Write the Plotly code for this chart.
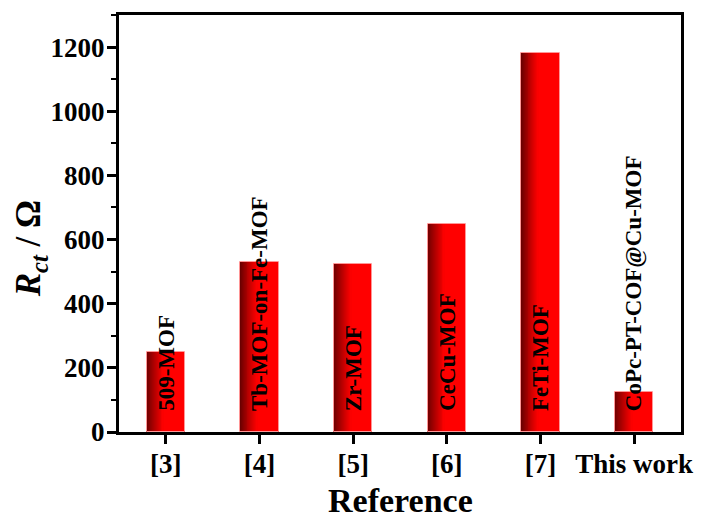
import plotly.graph_objects as go

# Charge-transfer resistance of the electrode materials, by literature reference
references = ["[3]", "[4]", "[5]", "[6]", "[7]", "This work"]
materials = ["509-MOF", "Tb-MOF-on-Fe-MOF", "Zr-MOF", "CeCu-MOF", "FeTi-MOF",
             "CoPc-PT-COF@Cu-MOF"]
rct_values = [250, 530, 525, 650, 1180, 125]

FONT = "Liberation Serif, Times New Roman, serif"
BAR_W = 0.41          # bar width in category units
SHADE_FRAC = 0.45     # fraction of the bar covered by the dark-to-red shading
N_SHADE = 18

fig = go.Figure()

# solid red body of every bar
fig.add_trace(go.Bar(x=references, y=rct_values, width=BAR_W,
                     marker=dict(color="#FF0000", line=dict(width=0))))

# dark left edge fading into red (thin overlapping strips)
step = BAR_W * SHADE_FRAC / N_SHADE
for i in range(N_SHADE):
    t = (i + 0.5) / N_SHADE
    r = int(round(100 + 155 * t ** 0.9))
    fig.add_trace(go.Bar(x=references, y=rct_values, width=step * 1.2,
                         offset=-BAR_W / 2 + i * step,
                         marker=dict(color=f"rgb({r},0,0)", line=dict(width=0))))

# light outline around each bar
fig.add_trace(go.Bar(x=references, y=rct_values, width=BAR_W,
                     marker=dict(color="rgba(0,0,0,0)",
                                 line=dict(color="rgba(255,150,150,1)", width=1))))

# material names written vertically from the foot of each bar
annotations = []
for ref, name in zip(references, materials):
    annotations.append(dict(x=ref, y=0, xref="x", yref="y", text=name,
                            textangle=-90, showarrow=False, xanchor="center",
                            yanchor="bottom", yshift=19,
                            font=dict(family=FONT, size=23, color="black",
                                      weight="bold")))

# axis titles
annotations.append(dict(x=-0.157, y=0.44, xref="paper", yref="paper",
                        text="<i>R</i><sub><i>ct</i></sub> / Ω", textangle=-90,
                        showarrow=False, xanchor="center", yanchor="middle",
                        font=dict(family=FONT, size=35, color="black",
                                  weight="bold")))
annotations.append(dict(x=0.5, y=-0.164, xref="paper", yref="paper",
                        text="Reference", showarrow=False, xanchor="center",
                        yanchor="middle",
                        font=dict(family=FONT, size=34, color="black",
                                  weight="bold")))

tickfont = dict(family=FONT, size=27, color="black", weight="bold")

fig.update_layout(
    width=705, height=519,
    margin=dict(l=119, r=19, t=12, b=87),
    paper_bgcolor="white", plot_bgcolor="white",
    barmode="overlay", bargap=0, showlegend=False,
    annotations=annotations,
    xaxis=dict(type="category", range=[-0.5, 5.5], showgrid=False,
               showline=True, linecolor="black", linewidth=3, mirror=True,
               ticks="outside", ticklen=9, tickwidth=2.5, tickcolor="black",
               tickfont=tickfont, ticklabelstandoff=-3),
    yaxis=dict(range=[0, 1300], tick0=0, dtick=200, showgrid=False,
               zeroline=False, showline=True, linecolor="black", linewidth=3,
               mirror=True, ticks="outside", ticklen=9, tickwidth=2.5,
               tickcolor="black", tickfont=tickfont, ticklabelstandoff=-3,
               minor=dict(dtick=100, ticks="outside", ticklen=5, tickwidth=2,
                          tickcolor="black", showgrid=False)),
)

fig.write_html("out.html")
